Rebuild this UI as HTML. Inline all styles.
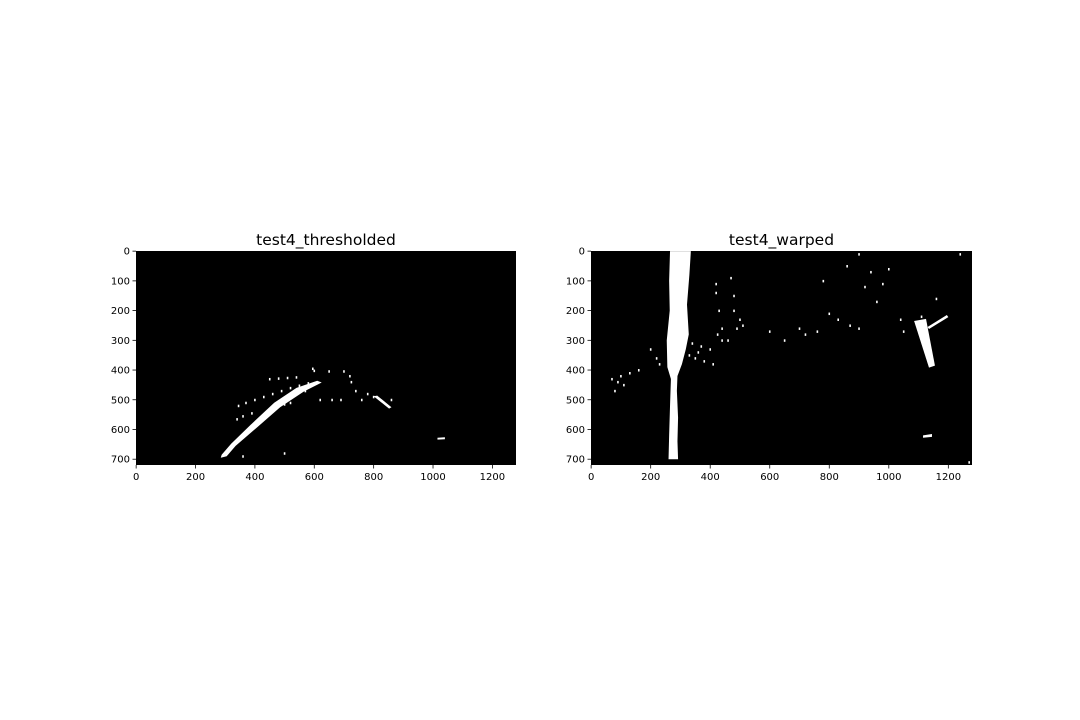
<!DOCTYPE html>
<html><head><meta charset="utf-8"><style>
html,body{margin:0;padding:0;background:#fff;}
svg{display:block;font-family:"DejaVu Sans","Liberation Sans",sans-serif;}
</style></head><body>
<svg id="fig" width="1080" height="720" viewBox="0 0 1080 720"></svg>
<script>
const xTicks=[0,200,400,600,800,1000,1200];
const yTicks=[0,100,200,300,400,500,600,700];
const titles=["test4_thresholded","test4_warped"];
// left panel shapes (image pixel coords)
const leftPolys=[
 [[285,695],[305,690],[335,655],[405,595],[485,525],[565,472],[625,442],[610,436],[540,460],[465,510],[385,585],[320,648],[288,685]],
 [[800,488],[812,486],[860,525],[852,530]],
 [[1015,628],[1040,626],[1040,633],[1015,634]]
];
const leftDots=[[345,520],[370,510],[400,500],[430,490],[460,480],[490,470],[520,460],[550,452],[580,444],[340,565],[360,555],[390,545],[450,430],[480,428],[510,426],[540,424],[600,402],[650,404],[700,404],[725,440],[740,470],[760,500],[780,480],[800,490],[860,500],[620,500],[660,500],[690,500],[500,515],[520,510],[360,690],[500,680],[570,470],[595,395],[720,420]];
// right panel shapes
const rightPolys=[
 [[265,0],[335,0],[330,80],[322,180],[328,280],[318,330],[305,380],[290,420],[288,470],[292,560],[290,640],[292,700],[260,700],[262,620],[265,520],[268,430],[256,390],[254,300],[264,200],[262,100]],
 [[1085,235],[1125,228],[1155,385],[1135,392]],
 [[1115,620],[1145,615],[1145,625],[1115,628]],
 [[1130,255],[1195,215],[1200,222],[1135,262]]
];
const rightDots=[[70,430],[100,420],[130,410],[160,400],[80,470],[110,450],[200,330],[230,380],[340,310],[370,320],[400,330],[350,360],[380,370],[410,380],[440,300],[460,300],[420,110],[430,200],[440,260],[470,90],[480,150],[500,230],[510,250],[600,270],[650,300],[700,260],[720,280],[760,270],[780,100],[800,210],[830,230],[860,50],[900,10],[920,120],[940,70],[960,170],[1000,60],[1040,230],[1050,270],[980,110],[1110,220],[1160,160],[1240,10],[1270,710],[870,250],[900,260],[420,140],[425,280],[480,200],[490,260],[330,350],[360,340],[220,360],[90,440]];

const NS="http://www.w3.org/2000/svg";
const svg=document.getElementById('fig');
function mk(tag,attrs,parent){const e=document.createElementNS(NS,tag);for(const k in attrs)e.setAttribute(k,attrs[k]);(parent||svg).appendChild(e);return e;}
const panels=[{x0:136,x1:516,polys:leftPolys,dots:leftDots},{x0:591,x1:972,polys:rightPolys,dots:rightDots}];
const y0=251,y1=465;
panels.forEach((p,i)=>{
 const sx=v=>p.x0+(v+0.5)/1280*(p.x1-p.x0);
 const sy=v=>y0+(v+0.5)/720*(y1-y0);
 const g=mk('g',{});
 
 
 const bg=mk('rect',{x:p.x0,y:y0,width:p.x1-p.x0,height:y1-y0,fill:'#000'},g);
 
 
 p.polys.forEach(pts=>{
  const pl=mk('polygon',{points:pts.map(q=>sx(q[0])+','+sy(q[1])).join(' '),fill:'#fff'},g);
  
  
 });
 p.dots.forEach(d=>{
  const r=mk('rect',{x:sx(d[0])-0.8,y:sy(d[1])-1,width:1.6,height:2.5,fill:'#fff'},g);
  
  
 });
 xTicks.forEach(t=>{
  const x=sx(t);
  mk('line',{x1:x,x2:x,y1:y1,y2:y1+3.5,stroke:'#000','stroke-width':0.8},g);
  const tx=mk('text',{x:x,y:y1+15,'font-size':10,'text-anchor':'middle',fill:'#000'},g);
  tx.textContent=t;
  
  
 });
 yTicks.forEach(t=>{
  const y=sy(t);
  mk('line',{x1:p.x0,x2:p.x0-3.5,y1:y,y2:y,stroke:'#000','stroke-width':0.8},g);
  const tx=mk('text',{x:p.x0-6,y:y+3.5,'font-size':10,'text-anchor':'end',fill:'#000'},g);
  tx.textContent=t;
  
  
 });
 const tt=mk('text',{x:(p.x0+p.x1)/2,y:y0-6,'font-size':15.5,'text-anchor':'middle',fill:'#000'},g);
 tt.textContent=titles[i];
 
 
});
</script>
</body></html>
